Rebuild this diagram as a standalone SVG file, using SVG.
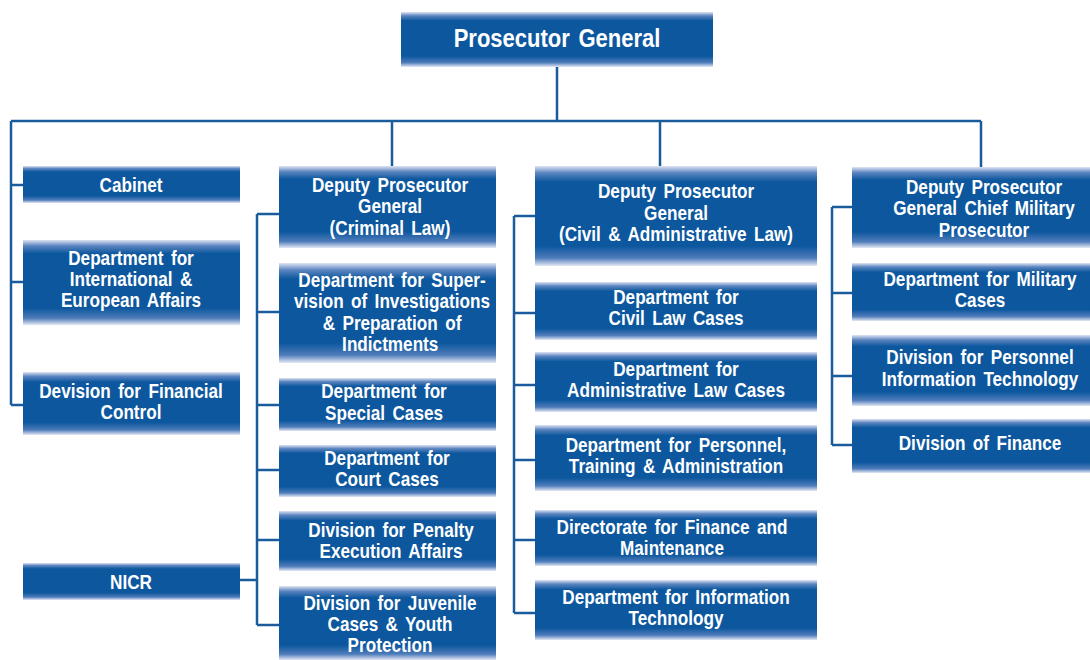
<svg xmlns="http://www.w3.org/2000/svg" width="1090" height="660" viewBox="0 0 1090 660">
<defs>
<linearGradient id="g" x1="0" y1="0" x2="0" y2="1">
<stop offset="0" stop-color="#dfe4f3"/>
<stop offset="0.07" stop-color="#5a84bf"/>
<stop offset="0.16" stop-color="#0c579e"/>
<stop offset="0.8" stop-color="#0c579e"/>
<stop offset="0.92" stop-color="#4f7cba"/>
<stop offset="1" stop-color="#e4e8f4"/>
</linearGradient>
<style>
.b{fill:url(#g);}
.t{font-family:"Liberation Sans",Arial,sans-serif;font-weight:bold;font-size:19.5px;fill:#fff;text-anchor:middle;word-spacing:3px;}
.big{font-size:25px;}
.c{fill:none;stroke:#1a5b9c;stroke-width:2.5;}
</style>
</defs>
<rect width="1090" height="660" fill="#fff"/>
<g id="connectors" class="c">
<path d="M557 67V121M11 121H981M11 121V405M11 185H23M11 282H23M11 405H23"/>
<path d="M392 121V166M257 214V625M257 214H279M257 312H279M257 405H279M257 470H279M257 540H279M257 625H279M240 580H257"/>
<path d="M660 121V166M514 216V613M514 216H535M514 313H535M514 385H535M514 460H535M514 540H535M514 613H535"/>
<path d="M981 121V167M832 207V445M832 207H852M832 293H852M832 376H852M832 445H852"/>
</g>
<g id="pg"><rect class="b" x="401" y="12" width="312" height="55"/><text class="t big" transform="matrix(0.88 0 0 1 557 0)" x="0" y="47">Prosecutor General</text></g>
<g id="cabinet"><rect class="b" x="23" y="166" width="217" height="37"/><text class="t" transform="matrix(0.88 0 0 1 131 0)" x="0" y="192">Cabinet</text></g>
<g id="intl"><rect class="b" x="23" y="240" width="217" height="85"/><g class="t" transform="matrix(0.88 0 0 1 131 0)"><text x="0" y="265">Department for</text><text x="0" y="286">International &amp;</text><text x="0" y="307">European Affairs</text></g></g>
<g id="finctrl"><rect class="b" x="23" y="372" width="217" height="63"/><g class="t" transform="matrix(0.88 0 0 1 131 0)"><text x="0" y="398">Devision for Financial</text><text x="0" y="419">Control</text></g></g>
<g id="nicr"><rect class="b" x="23" y="563" width="217" height="37"/><text class="t" transform="matrix(0.88 0 0 1 131 0)" x="0" y="589">NICR</text></g>
<g id="dep-crim"><rect class="b" x="279" y="166" width="217" height="82"/><g class="t" transform="matrix(0.88 0 0 1 390 0)"><text x="0" y="192">Deputy Prosecutor</text><text x="0" y="213">General</text><text x="0" y="235">(Criminal Law)</text></g></g>
<g id="supervision"><rect class="b" x="279" y="263" width="217" height="100"/><g class="t" transform="matrix(0.88 0 0 1 392 0)"><text x="0" y="287">Department for Super-</text><text x="0" y="308">vision of Investigations</text><text x="0" y="330">&amp; Preparation of</text><text x="-2" y="351">Indictments</text></g></g>
<g id="special"><rect class="b" x="279" y="378" width="217" height="53"/><g class="t" transform="matrix(0.88 0 0 1 384 0)"><text x="0" y="398">Department for</text><text x="0" y="420">Special Cases</text></g></g>
<g id="court"><rect class="b" x="279" y="445" width="217" height="52"/><g class="t" transform="matrix(0.88 0 0 1 387 0)"><text x="0" y="465">Department for</text><text x="0" y="486">Court Cases</text></g></g>
<g id="penalty"><rect class="b" x="279" y="511" width="217" height="60"/><g class="t" transform="matrix(0.88 0 0 1 391 0)"><text x="0" y="537">Division for Penalty</text><text x="0" y="558">Execution Affairs</text></g></g>
<g id="juvenile"><rect class="b" x="279" y="586" width="217" height="74"/><g class="t" transform="matrix(0.88 0 0 1 390 0)"><text x="0" y="610">Division for Juvenile</text><text x="0" y="631">Cases &amp; Youth</text><text x="0" y="652">Protection</text></g></g>
<g id="dep-civil"><rect class="b" x="535" y="166" width="282" height="100"/><g class="t" transform="matrix(0.88 0 0 1 676 0)"><text x="0" y="198">Deputy Prosecutor</text><text x="0" y="220">General</text><text x="0" y="241">(Civil &amp; Administrative Law)</text></g></g>
<g id="civil"><rect class="b" x="535" y="282" width="282" height="58"/><g class="t" transform="matrix(0.88 0 0 1 676 0)"><text x="0" y="304">Department for</text><text x="0" y="325">Civil Law Cases</text></g></g>
<g id="admin"><rect class="b" x="535" y="352" width="282" height="60"/><g class="t" transform="matrix(0.88 0 0 1 676 0)"><text x="0" y="376">Department for</text><text x="0" y="397">Administrative Law Cases</text></g></g>
<g id="personnel"><rect class="b" x="535" y="425" width="282" height="66"/><g class="t" transform="matrix(0.88 0 0 1 676 0)"><text x="0" y="452">Department for Personnel,</text><text x="0" y="473">Training &amp; Administration</text></g></g>
<g id="directorate"><rect class="b" x="535" y="510" width="282" height="56"/><g class="t" transform="matrix(0.88 0 0 1 672 0)"><text x="0" y="534">Directorate for Finance and</text><text x="0" y="555">Maintenance</text></g></g>
<g id="it"><rect class="b" x="535" y="580" width="282" height="60"/><g class="t" transform="matrix(0.88 0 0 1 676 0)"><text x="0" y="604">Department for Information</text><text x="0" y="625">Technology</text></g></g>
<g id="dep-mil"><rect class="b" x="852" y="167" width="238" height="81"/><g class="t" transform="matrix(0.88 0 0 1 984 0)"><text x="0" y="194">Deputy Prosecutor</text><text x="0" y="215">General Chief Military</text><text x="0" y="237">Prosecutor</text></g></g>
<g id="military"><rect class="b" x="852" y="263" width="238" height="58"/><g class="t" transform="matrix(0.88 0 0 1 980 0)"><text x="0" y="286">Department for Military</text><text x="0" y="307">Cases</text></g></g>
<g id="persit"><rect class="b" x="852" y="335" width="238" height="71"/><g class="t" transform="matrix(0.88 0 0 1 980 0)"><text x="0" y="364">Division for Personnel</text><text x="0" y="386">Information Technology</text></g></g>
<g id="finance"><rect class="b" x="852" y="419" width="238" height="54"/><text class="t" transform="matrix(0.88 0 0 1 980 0)" x="0" y="450">Division of Finance</text></g>
</svg>
